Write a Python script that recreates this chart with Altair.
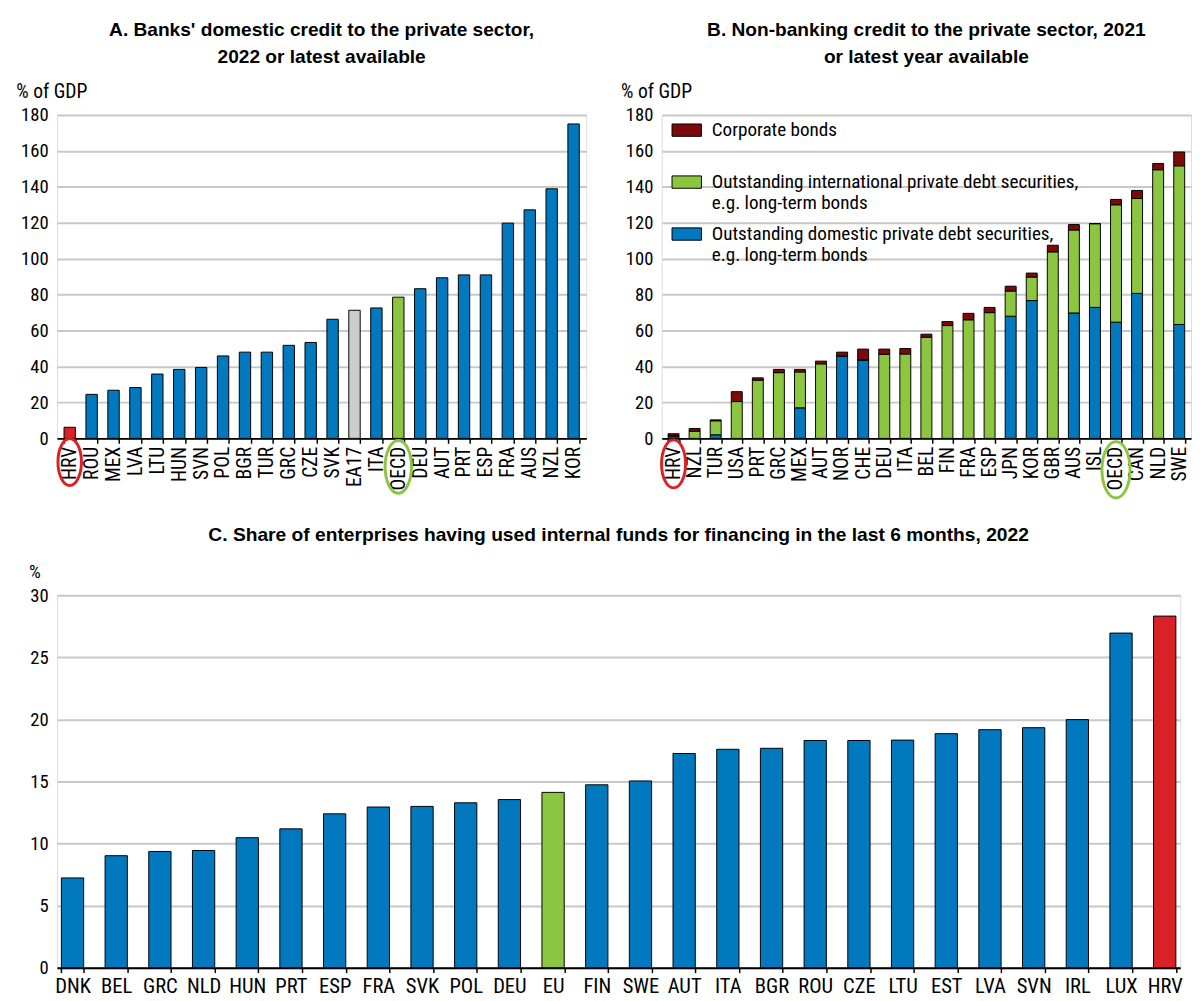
import altair as alt
import pandas as pd

# ---------------- data ----------------
a_countries = ["HRV", "ROU", "MEX", "LVA", "LTU", "HUN", "SVN", "POL", "BGR", "TUR", "GRC", "CZE",
               "SVK", "EA17", "ITA", "OECD", "DEU", "AUT", "PRT", "ESP", "FRA", "AUS", "NZL", "KOR"]
a_values = [6.2, 24.5, 26.8, 28.3, 35.8, 38.4, 39.5, 45.9, 48.0, 48.0, 51.8, 53.4,
            66.3, 71.3, 72.6, 78.6, 83.3, 89.4, 91.0, 91.0, 119.8, 127.2, 138.9, 175.0]

b_countries = ["HRV", "NZL", "TUR", "USA", "PRT", "GRC", "MEX", "AUT", "NOR", "CHE", "DEU", "ITA", "BEL",
               "FIN", "FRA", "ESP", "JPN", "KOR", "GBR", "AUS", "ISL", "OECD", "CAN", "NLD", "SWE"]
b_domestic = [1.0, 0.0, 2.0, 0.0, 0.0, 0.0, 17.0, 0.0, 45.9, 43.7, 0.0, 0.0, 0.0,
              0.0, 0.0, 0.0, 68.0, 76.7, 0.0, 69.8, 72.9, 64.7, 80.7, 0.0, 63.4]
b_international = [0.6, 4.0, 7.8, 20.5, 32.4, 36.6, 20.0, 41.5, 0.0, 0.0, 46.8, 47.0, 56.3,
                   62.8, 66.0, 70.0, 14.0, 13.1, 103.8, 46.2, 46.6, 65.3, 52.8, 149.5, 88.3]
b_corporate = [1.0, 1.5, 0.5, 5.5, 1.3, 1.8, 1.4, 1.5, 2.1, 6.0, 2.9, 3.0, 1.7,
               2.2, 3.6, 2.9, 2.7, 2.2, 3.7, 3.0, 0.0, 3.0, 4.5, 3.5, 7.7]
b_series = ["Corporate bonds",
            "Outstanding international private debt securities, e.g. long-term bonds",
            "Outstanding domestic private debt securities, e.g. long-term bonds"]

c_countries = ["DNK", "BEL", "GRC", "NLD", "HUN", "PRT", "ESP", "FRA", "SVK", "POL", "DEU", "EU", "FIN",
               "SWE", "AUT", "ITA", "BGR", "ROU", "CZE", "LTU", "EST", "LVA", "SVN", "IRL", "LUX", "HRV"]
c_values = [7.23, 9.02, 9.36, 9.44, 10.47, 11.18, 12.39, 12.94, 12.99, 13.28, 13.54, 14.12, 14.73,
            15.04, 17.25, 17.59, 17.67, 18.30, 18.30, 18.33, 18.85, 19.17, 19.33, 19.98, 26.95, 28.32]

# ---------------- styling ----------------
BLUE = "#0278BE"
GREEN = "#8CC641"
RED = "#DA2128"
DARKRED = "#7D0A0A"
GREY = "#CDCDCD"
FONT = "Liberation Sans Narrow, Arial Narrow, Roboto Condensed, DejaVu Sans Condensed, sans-serif"
TFONT = "Liberation Sans Narrow, Arial Narrow, Liberation Sans, Arial, sans-serif"
YLAB = 19
XLAB = 20


def kind(c, special):
    return special.get(c, "normal")


hl_domain = ["normal", "hrv", "agg_green", "agg_grey"]
hl_range = [BLUE, RED, GREEN, GREY]

df_a = pd.DataFrame({"country": a_countries, "value": a_values})
df_a["kind"] = [kind(c, {"HRV": "hrv", "OECD": "agg_green", "EA17": "agg_grey"}) for c in a_countries]

rows = []
for i, c in enumerate(b_countries):
    rows.append({"country": c, "series": b_series[2], "value": b_domestic[i], "ord": 0})
    rows.append({"country": c, "series": b_series[1], "value": b_international[i], "ord": 1})
    rows.append({"country": c, "series": b_series[0], "value": b_corporate[i], "ord": 2})
df_b = pd.DataFrame(rows)

df_c = pd.DataFrame({"country": c_countries, "value": c_values})
df_c["kind"] = [kind(c, {"HRV": "hrv", "EU": "agg_green"}) for c in c_countries]

ellipse = "M -0.5 0 A 0.5 1 0 1 0 0.5 0 A 0.5 1 0 1 0 -0.5 0 Z"

H_TOP = 330
W_A = 540
W_B = 540
H_C = 380
W_C = 1146

yaxis_top = alt.Axis(values=list(range(0, 181, 20)), title="% of GDP", titleAngle=0, titleAlign="left",
                     titleBaseline="bottom", titleX=-42, titleY=-14, titleFontWeight="normal",
                     titleFontSize=20, titleFont=FONT, labelFontSize=YLAB, labelFont=FONT,
                     labelPadding=9, domain=False, ticks=False, grid=True,
                     gridColor="#C8C8C8", gridWidth=2, labelColor="black", titleColor="black")

xaxis_top = alt.Axis(title=None, labelAngle=-90, labelFontSize=XLAB, labelFont=FONT, labelPadding=3,
                     domainColor="black", domainWidth=2, tickColor="black", tickWidth=1.5,
                     tickSize=5, tickBand="extent", labelColor="black", grid=False)


def title_params(lines, fs=19.5):
    return alt.TitleParams(lines, font=TFONT, fontSize=fs, fontWeight="bold", anchor="middle",
                           color="black", offset=15, lineHeight=27)


def ring(country, order, color, size, yoff):
    return alt.Chart(pd.DataFrame({"country": [country]})).mark_point(
        shape=ellipse, size=size, filled=False, strokeWidth=3, opacity=1, color=color,
        stroke=color).encode(
        x=alt.X("country:N", sort=order),
        y=alt.value(H_TOP + yoff),
    )


# ---------------- panel A ----------------
xa = alt.X("country:N", sort=a_countries, axis=xaxis_top,
           scale=alt.Scale(paddingInner=0.48, paddingOuter=0.32))
bars_a = alt.Chart(df_a).mark_bar(stroke="black", strokeWidth=1).encode(
    x=xa,
    y=alt.Y("value:Q", axis=yaxis_top, scale=alt.Scale(domain=[0, 180], nice=False)),
    color=alt.Color("kind:N", scale=alt.Scale(domain=hl_domain, range=hl_range), legend=None),
)
panel_a = alt.layer(bars_a,
                    ring("HRV", a_countries, RED, 2300, 24),
                    ring("OECD", a_countries, GREEN, 2900, 29)).properties(
    width=W_A, height=H_TOP,
    title=title_params(["A. Banks' domestic credit to the private sector,", "2022 or latest available"]))

# ---------------- panel B ----------------
label_expr = ("indexof(datum.label, 'e.g.') > 0 ? "
              "[substring(datum.label, 0, indexof(datum.label, 'e.g.') - 1), "
              "substring(datum.label, indexof(datum.label, 'e.g.'))] : [datum.label, ' ']")
bars_b = alt.Chart(df_b).mark_bar(stroke="black", strokeWidth=1).encode(
    x=alt.X("country:N", sort=b_countries, axis=xaxis_top,
            scale=alt.Scale(paddingInner=0.48, paddingOuter=0.3)),
    y=alt.Y("sum(value):Q", axis=yaxis_top, scale=alt.Scale(domain=[0, 180], nice=False), stack="zero"),
    color=alt.Color("series:N", scale=alt.Scale(domain=b_series, range=[DARKRED, GREEN, BLUE]),
                    legend=alt.Legend(title=None, orient="none", legendX=10, legendY=0,
                                      symbolType="M -1 -0.42 H 1 V 0.42 H -1 Z", symbolSize=900,
                                      symbolStrokeColor="black", symbolStrokeWidth=1,
                                      labelFontSize=19.5, labelFont=FONT, labelColor="black",
                                      labelLimit=500, labelExpr=label_expr, rowPadding=6,
                                      labelOffset=10, symbolOpacity=1)),
    order=alt.Order("ord:Q"),
)
panel_b = alt.layer(bars_b,
                    ring("HRV", b_countries, RED, 2400, 26),
                    ring("OECD", b_countries, GREEN, 3300, 32)).properties(
    width=W_B, height=H_TOP,
    title=title_params(["B. Non-banking credit to the private sector, 2021", "or latest year available"]))

# ---------------- panel C ----------------
panel_c = alt.Chart(df_c).mark_bar(stroke="black", strokeWidth=1).encode(
    x=alt.X("country:N", sort=c_countries,
            axis=alt.Axis(title=None, labelAngle=0, labelFontSize=21, labelFont=FONT, labelPadding=3,
                          domainColor="black", domainWidth=2, tickColor="black", tickWidth=1.5,
                          tickSize=5, tickBand="extent", labelColor="black"),
            scale=alt.Scale(paddingInner=0.49, paddingOuter=0.1)),
    y=alt.Y("value:Q", scale=alt.Scale(domain=[0, 30], nice=False),
            axis=alt.Axis(values=[0, 5, 10, 15, 20, 25, 30], title="%", titleAngle=0, titleAlign="left",
                          titleBaseline="bottom", titleX=-29, titleY=-14, titleFontWeight="normal",
                          titleFontSize=YLAB, titleFont=FONT, labelFontSize=YLAB, labelFont=FONT,
                          labelPadding=9, domain=False, ticks=False, grid=True, gridColor="#C8C8C8",
                          gridWidth=2, labelColor="black", titleColor="black")),
    color=alt.Color("kind:N", scale=alt.Scale(domain=hl_domain, range=hl_range), legend=None),
).properties(
    width=W_C, height=H_C,
    title=alt.TitleParams("C. Share of enterprises having used internal funds for financing in the last 6 months, 2022",
                          font=TFONT, fontSize=19.6, fontWeight="bold", anchor="middle", color="black",
                          offset=18))

top = alt.hconcat(panel_a, panel_b, spacing=33).resolve_scale(color="independent")
chart = alt.vconcat(top, panel_c, spacing=19).resolve_scale(color="independent").configure_view(
    stroke=None).configure(padding={"left": 7, "top": 2, "right": 0, "bottom": 0}, background="white")

chart.save("out.html", embed_options={"renderer": "svg", "actions": False})
